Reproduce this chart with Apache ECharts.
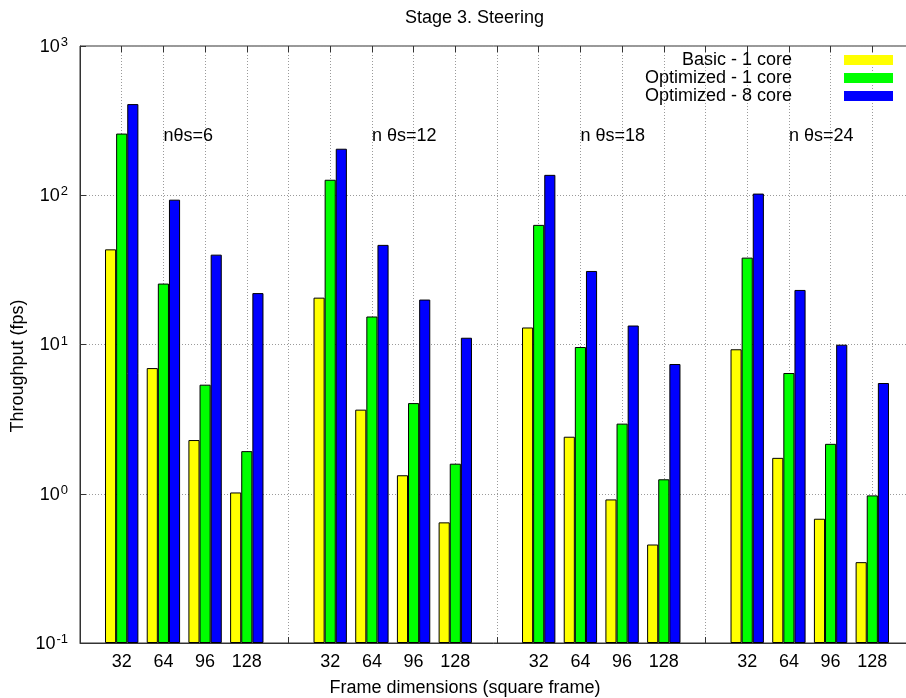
<!DOCTYPE html>
<html><head><meta charset="utf-8">
<script src="https://cdn.jsdelivr.net/npm/echarts@6/dist/echarts.min.js"></script>
<style>html,body{margin:0;padding:0;background:#fff}#c{width:906px;height:698px}</style>
</head><body><div id="c"></div>
<script>
const frameSizes = ['32', '64', '96', '128'];
const groupLabels = ['nθs=6', 'n θs=12', 'n θs=18', 'n θs=24'];
const seriesNames = ['Basic - 1 core', 'Optimized - 1 core', 'Optimized - 8 core'];
const seriesColors = ['#ffff00', '#00ff00', '#0000ff'];
const basic1 = [43.4, 6.95, 2.29, 1.02, 20.6, 3.66, 1.33, 0.643, 13.0, 2.41, 0.916, 0.457, 9.29, 1.74, 0.68, 0.348];
const opt1 = [259, 25.6, 5.38, 1.93, 127, 15.4, 4.05, 1.59, 63.3, 9.62, 2.95, 1.25, 38.2, 6.44, 2.16, 0.975];
const opt8 = [408, 93.4, 40.0, 22.1, 205, 46.5, 20.0, 11.1, 137, 31.1, 13.4, 7.40, 102.6, 23.2, 9.97, 5.52];
const yMin = 0.1, yMax = 1000;
const groupLabelValue = 250;
const titleText = 'Stage 3. Steering';
const xTitle = 'Frame dimensions (square frame)';
const yTitle = 'Throughput (fps)';

const FONT = '"Liberation Sans", Arial, Helvetica, sans-serif';

const categories = [''];
groupLabels.forEach(() => { categories.push(...frameSizes, ''); });

function expand(arr) {
  const out = ['-'];
  for (let g = 0; g < groupLabels.length; g++) {
    for (let k = 0; k < frameSizes.length; k++) out.push(arr[g * frameSizes.length + k]);
    out.push('-');
  }
  return out;
}
const allData = [basic1, opt1, opt8];

const chart = echarts.init(document.getElementById('c'), null, { renderer: 'canvas' });

const gridColor = '#9a9a9a';
const axisColor = '#333';

const option = {
  animation: false,
  backgroundColor: '#fff',
  textStyle: { fontFamily: FONT },
  title: {
    text: titleText,
    left: 405, top: 9, padding: 0,
    textStyle: { fontFamily: FONT, fontSize: 18, fontWeight: 'normal', color: '#000' }
  },
  legend: {
    orient: 'vertical',
    right: 13, top: 51, padding: 0,
    itemGap: 0,
    align: 'right',
    icon: 'rect',
    itemWidth: 49, itemHeight: 10,
    itemStyle: { borderWidth: 0 },
    data: seriesNames,
    textStyle: { fontFamily: FONT, fontSize: 18, lineHeight: 18, color: '#000', padding: [0, 47, 0, 0] }
  },
  grid: {
    left: 80, right: -8, top: 46, bottom: 55,
    outerBoundsMode: 'none',
    show: true, borderColor: axisColor, borderWidth: 1, backgroundColor: 'transparent',
    containLabel: false
  },
  xAxis: [{
    type: 'category',
    data: categories,
    boundaryGap: false,
    position: 'bottom',
    axisLine: { show: true, lineStyle: { color: axisColor, width: 1 } },
    axisTick: { show: true, inside: true, length: 6, interval: 0, lineStyle: { color: axisColor } },
    axisLabel: { interval: 0, margin: 10, fontFamily: FONT, fontSize: 18, color: '#000' },
    splitLine: { show: true, interval: 0, lineStyle: { color: gridColor, type: [1, 2], width: 1 } }
  }, {
    type: 'category',
    data: categories,
    boundaryGap: false,
    position: 'top',
    axisLine: { show: false },
    axisTick: { show: true, inside: true, length: 6, interval: 0, lineStyle: { color: axisColor } },
    axisLabel: { show: false },
    splitLine: { show: false }
  }],
  yAxis: {
    type: 'log',
    logBase: 10,
    min: yMin, max: yMax,
    startValue: yMin,
    axisLine: { show: true, lineStyle: { color: axisColor, width: 1 } },
    axisTick: { show: true, inside: true, length: 6, lineStyle: { color: axisColor } },
    minorTick: { show: false },
    splitLine: { show: true, lineStyle: { color: gridColor, type: [1, 2], width: 1 } },
    axisLabel: {
      margin: 12,
      formatter: function (v) {
        const e = Math.round(Math.log10(v));
        return '{b|10}{s|' + e + '}';
      },
      rich: {
        b: { fontFamily: FONT, fontSize: 18, lineHeight: 20, verticalAlign: 'bottom', color: '#000' },
        s: { fontFamily: FONT, fontSize: 13, lineHeight: 13, verticalAlign: 'top', color: '#000', padding: [0, 0, 0, 1] }
      }
    }
  },
  series: seriesNames.map((name, i) => ({
    name: name,
    type: 'bar',
    xAxisIndex: 0,
    data: expand(allData[i]),
    barGap: '0%',
    barCategoryGap: '20%',
    itemStyle: { color: seriesColors[i], borderColor: '#000', borderWidth: 1 },
    emphasis: { disabled: true }
  }))
};

chart.setOption(option);

const graphics = [];
groupLabels.forEach((lab, g) => {
  const catIndex = 2 + g * (frameSizes.length + 1);
  const p = chart.convertToPixel({ xAxisIndex: 0, yAxisIndex: 0 }, [catIndex, groupLabelValue]);
  graphics.push({
    type: 'text', x: p[0], y: p[1],
    style: { text: lab, font: '18px ' + FONT, fill: '#000', align: 'left', verticalAlign: 'middle' }
  });
});
graphics.push({
  type: 'text', x: 465, y: 688,
  style: { text: xTitle, font: '18px ' + FONT, fill: '#000', align: 'center', verticalAlign: 'middle' }
});
graphics.push({
  type: 'text', x: 18, y: 366, rotation: Math.PI / 2,
  style: { text: yTitle, font: '18px ' + FONT, fill: '#000', align: 'center', verticalAlign: 'middle' }
});
chart.setOption({ graphic: graphics });
</script>
</body></html>
